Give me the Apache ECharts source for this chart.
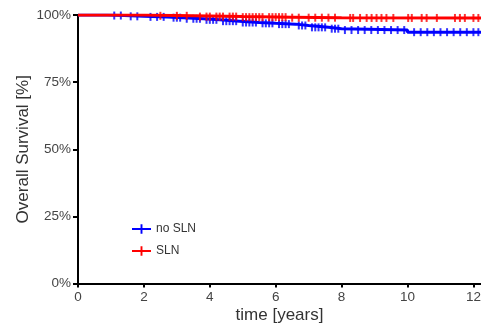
<!DOCTYPE html>
<html><head><meta charset="utf-8">
<script src="https://cdn.jsdelivr.net/npm/echarts@6/dist/echarts.min.js"></script>
<style>html,body{margin:0;padding:0;background:#fff}#c{width:481px;height:326px}</style>
</head><body><div id="c"></div>
<script>
// Kaplan-Meier step points (time in years, survival %)
var noSlnTimes = [0, 0.9, 1.4, 2.0, 2.7, 3.2, 3.8, 4.3, 4.9, 5.5, 6.0, 6.6, 7.0, 7.6, 8.0, 10.0, 12.23];
var noSlnSurv  = [100, 99.8, 99.5, 99.3, 99.0, 98.6, 98.2, 97.7, 97.2, 96.9, 96.6, 96.1, 95.4, 94.9, 94.4, 93.6, 93.6];
var slnTimes = [0, 2.0, 3.5, 5.0, 6.5, 8.0, 12.23];
var slnSurv  = [100, 99.7, 99.4, 99.2, 99.0, 98.9, 98.9];
// censoring times
var noSlnCensor = [1.1,1.3,1.6,1.8,2.2,2.4,2.6,2.9,3.0,3.1,3.3,3.5,3.6,3.7,3.9,4.0,4.1,4.2,4.4,4.5,4.6,4.7,4.8,5.0,5.1,5.2,5.3,5.4,5.6,5.7,5.8,5.9,6.1,6.2,6.3,6.4,6.7,6.8,6.9,7.1,7.2,7.3,7.4,7.5,7.7,7.8,7.9,8.1,8.3,8.5,8.7,8.9,9.1,9.3,9.5,9.7,9.9,10.2,10.4,10.6,10.8,11.0,11.2,11.4,11.6,11.8,12.0,12.15];
var slnCensor = [2.5,3.0,3.3,3.7,3.9,4.0,4.2,4.3,4.4,4.6,4.7,4.8,5.0,5.1,5.2,5.3,5.4,5.5,5.6,5.8,5.9,6.0,6.1,6.2,6.3,6.5,6.7,7.0,7.2,7.4,7.6,7.8,8.26,8.35,8.56,8.76,8.91,9.06,9.21,9.36,9.57,10.02,10.13,10.43,10.58,10.89,11.44,11.59,11.74,12.0,12.15];
var xTicks = [0, 2, 4, 6, 8, 10, 12];
var yTicks = [0, 25, 50, 75, 100];
var groupNames = ['no SLN', 'SLN'];

function stepData(t, s) { return t.map(function (v, i) { return [v, s[i]]; }); }
function survAt(t, s, x) { var v = s[0]; for (var i = 0; i < t.length; i++) { if (t[i] <= x) v = s[i]; } return v; }
function censorData(ct, t, s) { return ct.map(function (x) { return [x, survAt(t, s, x)]; }); }

var blue = '#0000ff', red = '#ff0000';
var tick = 'path://M0,0H1V8H0Z';
var legendIcon = 'path://M0,4H20V6H0Z M9,0H11V10H9Z';
var font = 'Liberation Sans, Arial, sans-serif';

var chart = echarts.init(document.getElementById('c'), null, { renderer: 'canvas' });
chart.setOption({
  animation: false,
  textStyle: { fontFamily: font },
  grid: { left: 78, right: 0, top: 15, bottom: 42.5, containLabel: false, outerBoundsMode: 'none' },
  legend: {
    orient: 'vertical', left: 127, top: 218, itemGap: 10, itemWidth: 19, itemHeight: 10,
    textStyle: { fontSize: 12, color: '#333', fontFamily: font },
    data: [{ name: groupNames[0], icon: legendIcon, itemStyle: { color: blue } },
           { name: groupNames[1], icon: legendIcon, itemStyle: { color: red } }]
  },
  xAxis: {
    type: 'value', min: 0, max: 12.23,
    name: 'time [years]', nameLocation: 'middle', nameGap: 23, nameMoveOverlap: false,
    nameTextStyle: { fontSize: 17, color: '#333', fontFamily: font },
    splitLine: { show: false },
    axisLine: { show: true, onZero: false, lineStyle: { color: '#000', width: 2 } },
    axisTick: { show: true, length: 4, lineStyle: { color: '#000', width: 2 }, customValues: xTicks },
    axisLabel: { fontSize: 13.5, color: '#444', margin: 7, customValues: xTicks, fontFamily: font }
  },
  yAxis: {
    type: 'value', min: 0, max: 100,
    name: 'Overall Survival [%]', nameLocation: 'middle', nameGap: 46, nameMoveOverlap: false,
    nameTextStyle: { fontSize: 17, color: '#333', fontFamily: font },
    splitLine: { show: false },
    axisLine: { show: true, lineStyle: { color: '#000', width: 2 } },
    axisTick: { show: true, length: 5, lineStyle: { color: '#000', width: 2 }, customValues: yTicks },
    axisLabel: { fontSize: 13.5, color: '#444', margin: 7, customValues: yTicks, formatter: '{value}%', fontFamily: font }
  },
  series: [
    { name: groupNames[0], type: 'line', step: 'end', showSymbol: false, symbol: 'none', z: 2,
      data: stepData(noSlnTimes, noSlnSurv), lineStyle: { color: blue, width: 3 }, itemStyle: { color: blue } },
    { name: groupNames[0], type: 'scatter', symbol: tick, symbolSize: [2, 8], z: 2,
      data: censorData(noSlnCensor, noSlnTimes, noSlnSurv), itemStyle: { color: blue } },
    { name: groupNames[1], type: 'line', step: 'end', showSymbol: false, symbol: 'none', z: 3,
      data: stepData(slnTimes, slnSurv), lineStyle: { color: red, width: 3 }, itemStyle: { color: red } },
    { name: groupNames[1], type: 'scatter', symbol: tick, symbolSize: [2, 8], z: 3,
      data: censorData(slnCensor, slnTimes, slnSurv), itemStyle: { color: red } }
  ]
});
</script></body></html>
